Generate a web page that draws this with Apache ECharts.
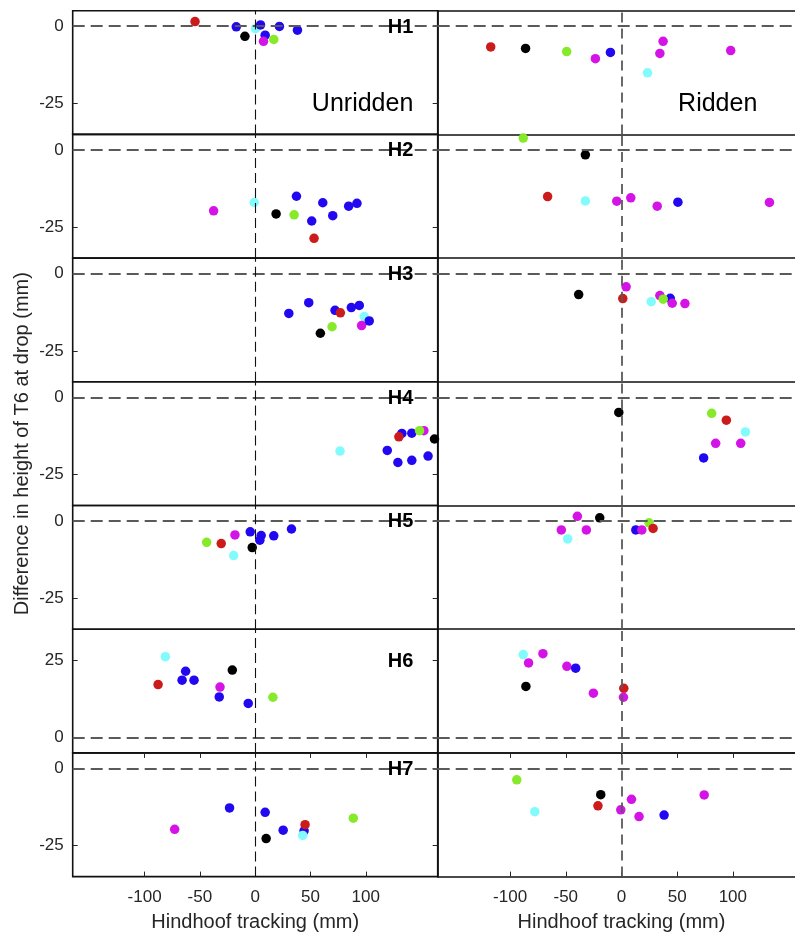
<!DOCTYPE html>
<html>
<head>
<meta charset="utf-8">
<script src="https://cdn.jsdelivr.net/npm/echarts@6.0.0/dist/echarts.min.js"></script>
<style>html,body{margin:0;padding:0;background:#fff;overflow:hidden}#c{width:795px;height:933px}</style>
</head>
<body>
<div id="c"></div>
<script>
// ---------- DATA ----------
const rowLabels = ['H1','H2','H3','H4','H5','H6','H7'];
const panelLabels = ['Unridden','Ridden'];
const xTickValues = [-100,-50,0,50,100];
const yTicksNeg = [-25,0];
const yTicksPos = [0,25];
const xTitle = 'Hindhoof tracking (mm)';
const yTitle = 'Difference in height of T6 at drop (mm)';

// [tracking, height diff, group colour]
const H1_unridden = [[-54.4,1.5,'red'],[-17.1,-0.2,'blue'],[-9.3,-3.3,'black'],[0.3,-0.8,'cyan'],[4.8,0.4,'blue'],[9.0,-2.9,'blue'],[7.5,-4.9,'magenta'],[16.8,-4.3,'green'],[21.9,-0.1,'blue'],[38.2,-1.3,'blue']];
const H1_ridden = [[-117.4,-6.7,'red'],[-86.1,-7.2,'black'],[-49.2,-8.2,'green'],[-23.4,-10.5,'magenta'],[-9.9,-8.5,'blue'],[37.4,-4.9,'magenta'],[34.5,-8.8,'magenta'],[23.4,-15.1,'cyan'],[98.1,-7.9,'magenta']];
const H2_unridden = [[-37.6,-19.7,'magenta'],[-0.9,-17.0,'cyan'],[18.9,-20.7,'black'],[35.2,-21.0,'green'],[37.3,-15.0,'blue'],[51.1,-23.0,'blue'],[53.2,-28.6,'red'],[61.1,-17.1,'blue'],[70.1,-21.3,'blue'],[84.5,-18.2,'blue'],[92.0,-17.3,'blue']];
const H2_ridden = [[-88.2,3.8,'green'],[-32.4,-1.6,'black'],[-66.3,-15.1,'red'],[-32.4,-16.5,'cyan'],[-4.2,-16.6,'magenta'],[8.4,-15.5,'magenta'],[32.1,-18.2,'magenta'],[50.7,-16.9,'blue'],[132.9,-17.0,'magenta']];
const H3_unridden = [[30.4,-12.9,'blue'],[48.4,-9.4,'blue'],[58.9,-19.3,'black'],[69.5,-17.2,'green'],[72.2,-11.9,'blue'],[77.0,-12.7,'red'],[86.9,-11.0,'blue'],[94.1,-10.3,'blue'],[98.6,-13.9,'cyan'],[96.2,-16.8,'magenta'],[103.1,-15.3,'blue']];
const H3_ridden = [[-38.4,-6.8,'black'],[4.2,-4.3,'magenta'],[1.2,-8.1,'red'],[34.5,-7.1,'magenta'],[43.8,-8.0,'blue'],[26.7,-9.1,'cyan'],[37.5,-8.3,'green'],[45.6,-9.6,'magenta'],[57.0,-9.7,'magenta']];
const H4_unridden = [[76.7,-17.4,'cyan'],[119.4,-17.2,'blue'],[129.0,-21.1,'blue'],[132.6,-11.7,'blue'],[129.9,-12.8,'red'],[141.6,-11.6,'blue'],[141.6,-20.4,'blue'],[152.5,-10.8,'magenta'],[148.6,-10.8,'green'],[156.3,-19.0,'blue'],[162.1,-13.5,'black']];
const H4_ridden = [[-2.4,-4.9,'black'],[81.0,-5.2,'green'],[94.2,-7.4,'red'],[111.3,-11.2,'cyan'],[84.6,-14.9,'magenta'],[107.1,-14.9,'magenta'],[73.8,-19.6,'blue']];
const H5_unridden = [[-43.9,-6.9,'green'],[-30.7,-7.3,'red'],[-18.3,-4.5,'magenta'],[-19.5,-11.2,'cyan'],[-4.5,-3.5,'blue'],[-2.7,-8.6,'black'],[5.4,-4.7,'blue'],[4.2,-6.2,'blue'],[16.8,-4.8,'blue'],[32.8,-2.6,'blue']];
const H5_ridden = [[-39.6,1.5,'magenta'],[-19.5,1.0,'black'],[-54.0,-2.9,'magenta'],[-48.3,-5.8,'cyan'],[-31.5,-2.9,'magenta'],[12.9,-2.9,'blue'],[18.3,-2.9,'magenta'],[24.8,-0.6,'green'],[28.4,-2.4,'red']];
const H6_unridden = [[-81.2,26.1,'cyan'],[-62.9,21.4,'blue'],[-87.8,17.1,'red'],[-66.1,18.5,'blue'],[-55.3,18.5,'blue'],[-31.8,16.3,'magenta'],[-32.5,13.1,'blue'],[-20.7,21.8,'black'],[-6.3,11.0,'blue'],[16.0,13.0,'green']];
const H6_ridden = [[-88.2,26.8,'cyan'],[-70.5,27.1,'magenta'],[-83.4,24.1,'magenta'],[-49.0,23.0,'magenta'],[-41.1,22.4,'blue'],[-85.8,16.5,'black'],[-25.2,14.3,'magenta'],[2.1,15.9,'red'],[1.8,13.0,'magenta']];
const H7_unridden = [[-72.8,-19.7,'magenta'],[-23.2,-12.8,'blue'],[9.0,-14.2,'blue'],[9.9,-22.7,'black'],[25.3,-20.0,'blue'],[44.2,-20.2,'blue'],[45.1,-18.2,'red'],[43.0,-21.7,'cyan'],[88.7,-16.1,'green']];
const H7_ridden = [[-94.0,-3.7,'green'],[-77.8,-14.0,'cyan'],[-18.6,-8.5,'black'],[-21.1,-12.1,'red'],[-0.6,-13.4,'magenta'],[9.0,-10.0,'magenta'],[15.8,-15.6,'magenta'],[38.3,-15.1,'blue'],[74.3,-8.6,'magenta']];

const rowsData = [
  [H1_unridden,H1_ridden],[H2_unridden,H2_ridden],[H3_unridden,H3_ridden],
  [H4_unridden,H4_ridden],[H5_unridden,H5_ridden],[H6_unridden,H6_ridden],[H7_unridden,H7_ridden]
];

// ---------- STYLE / LAYOUT ----------
const PALETTE = {red:'#cc1b1b',black:'#000000',blue:'#2108f0',cyan:'#82fbfc',magenta:'#d414e6',green:'#86ea2a'};
const FONT = 'Liberation Sans, Arial, Helvetica, sans-serif';
const AX = '#262626';
const FRAME = {color:'#111', width:1.6};
const TOP0 = 10.7, ROWH = 123.7;
const PANEL = [{left:72.7,width:365},{left:437.7,width:367.5}];
const XMIN = -165, XMAX = 165;

const chart = echarts.init(document.getElementById('c'), null, {renderer:'canvas'});
const grid = [], xAxis = [], yAxis = [], series = [], graphic = [];
const noLine = {show:false, onZero:false};
const frameLine = {show:true, onZero:false, lineStyle:FRAME};

rowsData.forEach((pair, r) => {
  const pos = (r === 5);
  const ymin = pos ? -5 : -35, ymax = pos ? 35 : 5;
  const yTicks = pos ? yTicksPos : yTicksNeg;
  const top = TOP0 + r*ROWH;
  const last = (r === rowsData.length - 1);
  pair.forEach((pts, p) => {
    const gi = grid.length;
    const left = p === 0;
    grid.push({left:PANEL[p].left, width:PANEL[p].width, top:top, height:ROWH,
      outerBoundsMode:'none', containLabel:false,
      show:left, borderColor:FRAME.color, borderWidth:FRAME.width, backgroundColor:'transparent'});
    const xi = xAxis.length;
    xAxis.push({type:'value', gridIndex:gi, min:XMIN, max:XMAX, position:'bottom',
      axisLine: left ? noLine : frameLine, splitLine:{show:false},
      axisTick:{show:last, inside:true, length:5, customValues:xTickValues, lineStyle:{color:AX,width:1}},
      axisLabel:{show:last, customValues:xTickValues, fontSize:17, color:AX, fontFamily:FONT, margin:12},
      name: last ? xTitle : '', nameLocation:'middle', nameGap:36,
      nameTextStyle:{fontSize:20, color:AX, fontFamily:FONT}});
    if (last || (!left && r === 0)) {
      xAxis.push({type:'value', gridIndex:gi, min:XMIN, max:XMAX, position:'top',
        axisLine: left ? noLine : frameLine, splitLine:{show:false}, axisLabel:{show:false},
        axisTick:{show:last, inside:true, length:5, customValues:xTickValues, lineStyle:{color:AX,width:1}}});
    }
    const yi = yAxis.length;
    yAxis.push({type:'value', gridIndex:gi, min:ymin, max:ymax, position:'left',
      axisLine: left ? noLine : frameLine, splitLine:{show:false},
      axisTick:{show:left, inside:true, length:5, customValues:yTicks, lineStyle:{color:AX,width:1}},
      axisLabel:{show:left, customValues:yTicks, fontSize:17, color:AX, fontFamily:FONT, margin:9}});
    if (left) {
      yAxis.push({type:'value', gridIndex:gi, min:ymin, max:ymax, position:'right',
        axisLine:noLine, splitLine:{show:false}, axisLabel:{show:false},
        axisTick:{show:true, inside:true, length:5, customValues:yTicks, lineStyle:{color:AX,width:1}}});
    }
    // reference lines
    series.push({type:'scatter', xAxisIndex:xi, yAxisIndex:yi, data:[], z:1, silent:true,
      markLine:{silent:true, symbol:['none','none'], label:{show:false}, animation:false,
        data:[
          {yAxis:0, lineStyle:{type:[12,6], color:'#5a5a5a', width:1.8}},
          {xAxis:0, lineStyle: left ? {type:[10,5], color:'#111', width:1.1} : {type:[10,6], color:'#5a5a5a', width:1.8}}
        ]}});
    series.push({type:'scatter', xAxisIndex:xi, yAxisIndex:yi, z:3, clip:false,
      symbol:'circle', symbolSize:9.5, animation:false,
      data: pts,
      itemStyle:{color: (d) => PALETTE[d.data[2]], opacity:1}});
  });
  // row label
  const yVal = pos ? 25 : 0;
  const yPix = top + (ymax - yVal)/(ymax - ymin)*ROWH + 1;
  graphic.push({type:'text', x:413.3, y:yPix, z:20,
    style:{text:rowLabels[r], font:'bold 20px '+FONT, fill:'#000', align:'right', verticalAlign:'middle', textAlign:'right', textVerticalAlign:'middle'}});
});

graphic.push({type:'text', x:413.3, y:104, z:20,
  style:{text:panelLabels[0], font:'25px '+FONT, fill:'#000', align:'right', verticalAlign:'middle', textAlign:'right', textVerticalAlign:'middle'}});
graphic.push({type:'text', x:757.3, y:104, z:20,
  style:{text:panelLabels[1], font:'25px '+FONT, fill:'#000', align:'right', verticalAlign:'middle', textAlign:'right', textVerticalAlign:'middle'}});
graphic.push({type:'text', x:22.5, y:TOP0 + 3.5*ROWH, rotation:Math.PI/2, z:20,
  style:{text:yTitle, font:'20px '+FONT, fill:AX, align:'center', verticalAlign:'middle', textAlign:'center', textVerticalAlign:'middle'}});

chart.setOption({animation:false, backgroundColor:'#fff', grid, xAxis, yAxis, series, graphic});
</script>
</body>
</html>
